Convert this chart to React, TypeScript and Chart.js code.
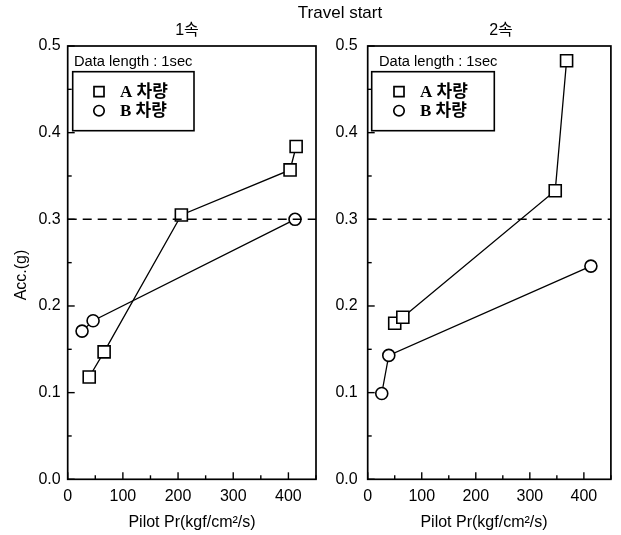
import React, { useEffect, useRef } from "react";
import { Chart, registerables } from "chart.js";

Chart.register(...registerables);

// ---------- data ----------
const FIGURE_TITLE = "Travel start";
const PANEL_TITLES = ["1속", "2속"];
const X_TITLE = "Pilot Pr(kgf/cm²/s)";
const Y_TITLE = "Acc.(g)";
const NOTE = "Data length : 1sec";
const SERIES_NAMES = ["A 차량", "B 차량"];

const X_MIN = 0;
const X_MAX = 450;
const X_STEP = 50;
const X_LABEL_STEP = 100;
const Y_MIN = 0;
const Y_MAX = 0.5;
const Y_STEP = 0.05;
const THRESHOLD = 0.3;

// panel 1 (1속)
const p1A_x = [39, 66, 206, 403, 414];
const p1A_y = [0.118, 0.147, 0.305, 0.357, 0.384];
const p1B_x = [26, 46, 412];
const p1B_y = [0.171, 0.183, 0.3];

// panel 2 (2속)
const p2A_x = [50, 65, 347, 368];
const p2A_y = [0.18, 0.187, 0.333, 0.483];
const p2B_x = [26, 39, 413];
const p2B_y = [0.099, 0.143, 0.246];

// ---------- layout ----------
const W = 621;
const H = 535;
const PLOT_TOP = 46;
const PLOT_BOTTOM = 479.3;
const FONT = '"Liberation Sans", Arial, "Noto Sans CJK KR", sans-serif';
const SERIF_BOLD = 'bold 17px "Liberation Serif", "Noto Sans CJK KR", serif';

const toPts = (xs: number[], ys: number[]) => xs.map((x, i) => ({ x, y: ys[i] }));

type PanelCfg = {
  plotLeft: number;
  plotRight: number;
  tickPadY: number;
  title: string;
  titleX: number;
  xTitleX: number;
  showYTitle: boolean;
  showFigureTitle: boolean;
  noteDx: number;
  boxDx: number;
  boxW: number;
  markerDx: number;
  textDx: number;
  A: { x: number; y: number }[];
  B: { x: number; y: number }[];
};

const decorPlugin = {
  id: "decor",
  afterDraw(chart: any, _args: any, o: any) {
    const { ctx, chartArea: a } = chart;
    ctx.save();
    // frame
    ctx.strokeStyle = "#000";
    ctx.lineWidth = 1.7;
    ctx.strokeRect(a.left, a.top, a.right - a.left, a.bottom - a.top);

    // inward ticks
    ctx.lineWidth = 1.4;
    const xs = chart.scales.x;
    xs.ticks.forEach((t: any) => {
      const px = xs.getPixelForValue(t.value);
      const major = Math.abs(t.value % X_LABEL_STEP) < 1e-6;
      const len = major ? 7 : 4;
      ctx.beginPath();
      ctx.moveTo(px, a.bottom);
      ctx.lineTo(px, a.bottom - len);
      ctx.stroke();
    });
    const ys = chart.scales.y;
    ys.ticks.forEach((t: any) => {
      const py = ys.getPixelForValue(t.value);
      const v10 = t.value * 10;
      const major = Math.abs(v10 - Math.round(v10)) < 1e-6;
      const len = major ? 7 : 4;
      ctx.beginPath();
      ctx.moveTo(a.left, py);
      ctx.lineTo(a.left + len, py);
      ctx.stroke();
    });

    ctx.fillStyle = "#000";
    ctx.textBaseline = "middle";
    // figure title
    if (o.showFigureTitle) {
      ctx.font = `17px ${FONT}`;
      ctx.textAlign = "center";
      ctx.fillText(FIGURE_TITLE, 340, 13);
    }
    // panel title
    ctx.font = `16px ${FONT}`;
    ctx.textAlign = "center";
    ctx.fillText(o.title, o.titleX, 31);
    // x title
    ctx.fillText(X_TITLE, o.xTitleX, 523);
    // y title
    if (o.showYTitle) {
      ctx.save();
      ctx.translate(22, 275);
      ctx.rotate(-Math.PI / 2);
      ctx.fillText(Y_TITLE, 0, 0);
      ctx.restore();
    }

    // note
    ctx.font = `14.7px ${FONT}`;
    ctx.textAlign = "left";
    ctx.fillText(NOTE, a.left + o.noteDx, 61.5);

    // legend box
    const bx = a.left + o.boxDx;
    const by = 71.7;
    const bh = 59;
    ctx.fillStyle = "#fff";
    ctx.fillRect(bx, by, o.boxW, bh);
    ctx.lineWidth = 1.6;
    ctx.strokeRect(bx, by, o.boxW, bh);

    const rows = [91.7, 110.7];
    const mx = a.left + o.markerDx;
    ctx.lineWidth = 1.7;
    chart.data.datasets.forEach((ds: any) => {
      if (ds.isThreshold) return;
      const ry = rows[ds.legendRow];
      ctx.beginPath();
      if (ds.pointStyle === "rect") {
        ctx.rect(mx - 5, ry - 5, 10, 10);
      } else {
        ctx.arc(mx, ry, 5.2, 0, Math.PI * 2);
      }
      ctx.fillStyle = "#fff";
      ctx.fill();
      ctx.stroke();
      ctx.fillStyle = "#000";
      ctx.font = SERIF_BOLD;
      ctx.textAlign = "left";
      ctx.fillText(ds.label, a.left + o.textDx, ry + 0.5);
    });
    ctx.restore();
  },
};

function Panel({ cfg }: { cfg: PanelCfg }) {
  const ref = useRef<HTMLCanvasElement | null>(null);
  useEffect(() => {
    if (!ref.current) return;
    const lineCommon = {
      borderColor: "#000",
      borderWidth: 1.3,
      pointBorderColor: "#000",
      pointBackgroundColor: "#fff",
      pointBorderWidth: 1.6,
      showLine: true,
      clip: false as any,
    };
    const chart = new Chart(ref.current, {
      type: "scatter",
      data: {
        datasets: [
          {
            label: "threshold",
            isThreshold: true,
            data: [
              { x: X_MIN, y: THRESHOLD },
              { x: X_MAX, y: THRESHOLD },
            ],
            showLine: true,
            borderColor: "#000",
            borderWidth: 1.6,
            borderDash: [9, 6],
            pointRadius: 0,
          } as any,
          {
            ...lineCommon,
            label: SERIES_NAMES[0],
            legendRow: 0,
            data: cfg.A,
            pointStyle: "rect",
            pointRadius: 8.5,
          } as any,
          {
            ...lineCommon,
            label: SERIES_NAMES[1],
            legendRow: 1,
            data: cfg.B,
            pointStyle: "circle",
            pointRadius: 6,
          } as any,
        ],
      },
      options: {
        animation: false,
        responsive: false,
        devicePixelRatio: 1,
        events: [],
        layout: {
          padding: { left: 0, right: W - cfg.plotRight, top: PLOT_TOP, bottom: 0 },
        },
        plugins: {
          legend: { display: false },
          title: { display: false },
          tooltip: { enabled: false },
          decor: {
            title: cfg.title,
            titleX: cfg.titleX,
            xTitleX: cfg.xTitleX,
            showYTitle: cfg.showYTitle,
            showFigureTitle: cfg.showFigureTitle,
            noteDx: cfg.noteDx,
            boxDx: cfg.boxDx,
            boxW: cfg.boxW,
            markerDx: cfg.markerDx,
            textDx: cfg.textDx,
          },
        } as any,
        scales: {
          x: {
            type: "linear",
            min: X_MIN,
            max: X_MAX,
            grid: { display: false, drawTicks: false },
            border: { display: false },
            ticks: {
              stepSize: X_STEP,
              autoSkip: false,
              maxRotation: 0,
              padding: 8,
              color: "#000",
              font: { family: FONT, size: 16 },
              callback: (v: any) =>
                Math.abs(Number(v) % X_LABEL_STEP) < 1e-6 ? String(v) : "",
            },
            afterFit: (s: any) => {
              s.height = H - PLOT_BOTTOM;
            },
          },
          y: {
            type: "linear",
            min: Y_MIN,
            max: Y_MAX,
            grid: { display: false, drawTicks: false },
            border: { display: false },
            ticks: {
              stepSize: Y_STEP,
              autoSkip: false,
              padding: cfg.tickPadY,
              color: "#000",
              font: { family: FONT, size: 16 },
              callback: (v: any) => {
                const v10 = Number(v) * 10;
                return Math.abs(v10 - Math.round(v10)) < 1e-6
                  ? (Math.round(v10) / 10).toFixed(1)
                  : "";
              },
            },
            afterFit: (s: any) => {
              s.width = cfg.plotLeft;
            },
          },
        },
      } as any,
      plugins: [decorPlugin],
    });
    return () => chart.destroy();
  }, [cfg]);
  return (
    <canvas
      ref={ref}
      width={W}
      height={H}
      style={{ position: "absolute", left: 0, top: 0, width: W, height: H }}
    />
  );
}

const PANEL1: PanelCfg = {
  plotLeft: 67.7,
  plotRight: 316,
  tickPadY: 7,
  title: PANEL_TITLES[0],
  titleX: 187,
  xTitleX: 192,
  showYTitle: true,
  showFigureTitle: true,
  noteDx: 6.3,
  boxDx: 5,
  boxW: 121.3,
  markerDx: 31.3,
  textDx: 52.3,
  A: toPts(p1A_x, p1A_y),
  B: toPts(p1B_x, p1B_y),
};

const PANEL2: PanelCfg = {
  plotLeft: 367.7,
  plotRight: 616,
  tickPadY: 10,
  title: PANEL_TITLES[1],
  titleX: 501,
  xTitleX: 484,
  showYTitle: false,
  showFigureTitle: false,
  noteDx: 11.3,
  boxDx: 4,
  boxW: 122.6,
  markerDx: 31.3,
  textDx: 52.3,
  A: toPts(p2A_x, p2A_y),
  B: toPts(p2B_x, p2B_y),
};

export default function App() {
  return (
    <div
      style={{
        position: "absolute",
        left: 0,
        top: 0,
        width: W,
        height: H,
        background: "#fff",
        overflow: "hidden",
      }}
    >
      <Panel cfg={PANEL1} />
      <Panel cfg={PANEL2} />
    </div>
  );
}
